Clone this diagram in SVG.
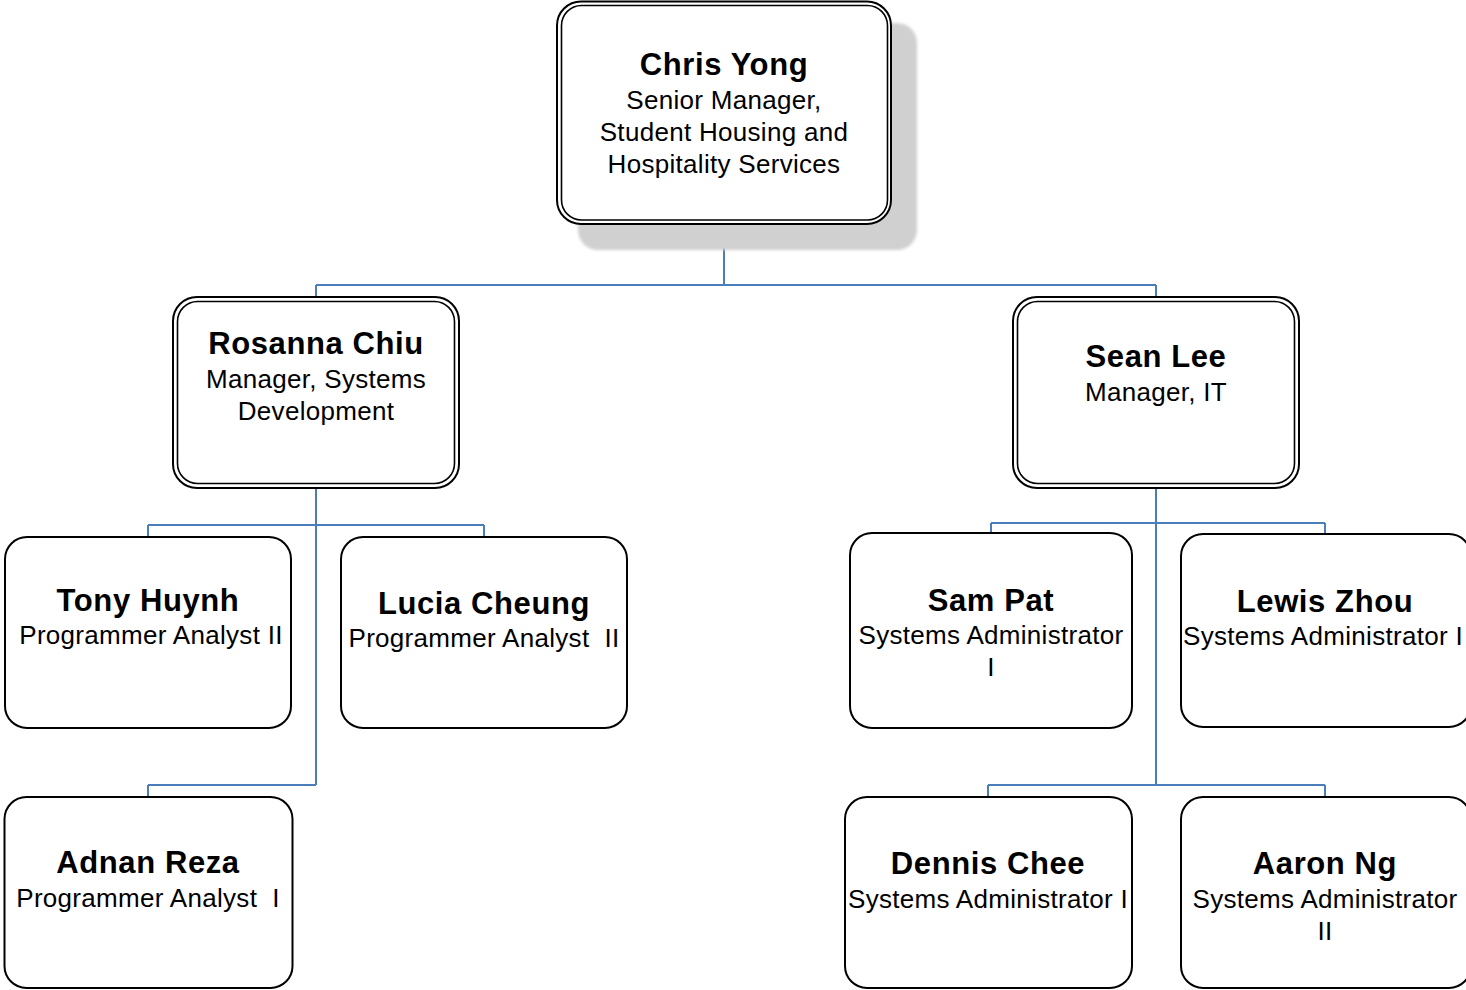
<svg xmlns="http://www.w3.org/2000/svg" width="1466" height="990" viewBox="0 0 1466 990">
<defs>
<filter id="blur" x="-10%" y="-10%" width="120%" height="120%"><feGaussianBlur stdDeviation="1.5"/></filter>
<style>
.box{fill:#ffffff;stroke:#000000;stroke-width:2}
.inner{fill:none;stroke:#000000;stroke-width:1.6}
.conn{fill:none;stroke:#4a7ebb;stroke-width:2}
.name{font-family:"Liberation Sans",Arial,sans-serif;font-weight:bold;font-size:31px;letter-spacing:0.6px;text-anchor:middle;fill:#000}
.sub{font-family:"Liberation Sans",Arial,sans-serif;font-size:26px;letter-spacing:0.3px;text-anchor:middle;fill:#000;white-space:pre}
</style>
</defs>
<rect width="1466" height="990" fill="#ffffff"/>
<g id="connectors">
<path class="conn" d="M724 224 V285 M316 285 H1156 M316 285 V297 M1156 285 V297"/>
<path class="conn" d="M316 488 V785 M148 525 H484 M148 525 V537 M484 525 V537 M148 785 H316 M148 785 V797"/>
<path class="conn" d="M1156 488 V785 M991 523 H1325 M991 523 V533 M1325 523 V534 M988 785 H1325 M988 785 V797 M1325 785 V797"/>
</g>
<g id="chris-yong">
<rect x="578" y="23" width="339" height="227" rx="20" fill="#d0d0d0" filter="url(#blur)"/>
<rect class="box" x="557" y="1.5" width="334" height="222.5" rx="24"/>
<rect class="inner" x="561.5" y="5.5" width="326" height="214.5" rx="20"/>
<text class="name" x="724" y="75">Chris Yong</text>
<text class="sub" x="724" y="109">Senior Manager,</text>
<text class="sub" x="724" y="141">Student Housing and</text>
<text class="sub" x="724" y="173">Hospitality Services</text>
</g>
<g id="rosanna-chiu">
<rect class="box" x="173" y="297" width="286" height="191" rx="24"/>
<rect class="inner" x="177.5" y="301.5" width="277" height="182" rx="20"/>
<text class="name" x="316" y="354">Rosanna Chiu</text>
<text class="sub" x="316" y="388">Manager, Systems</text>
<text class="sub" x="316" y="420">Development</text>
</g>
<g id="sean-lee">
<rect class="box" x="1013" y="297" width="286" height="191" rx="24"/>
<rect class="inner" x="1017.5" y="301.5" width="277" height="182" rx="20"/>
<text class="name" x="1156" y="367">Sean Lee</text>
<text class="sub" x="1156" y="401">Manager, IT</text>
</g>
<g id="tony-huynh">
<rect class="box" x="5" y="537" width="286" height="191" rx="22"/>
<text class="name" x="148" y="611">Tony Huynh</text>
<text class="sub" x="151" y="644">Programmer Analyst II</text>
</g>
<g id="lucia-cheung">
<rect class="box" x="341" y="537" width="286" height="191" rx="22"/>
<text class="name" x="484" y="614">Lucia Cheung</text>
<text class="sub" x="484" y="647">Programmer Analyst  II</text>
</g>
<g id="adnan-reza">
<rect class="box" x="4.5" y="797" width="288" height="191" rx="22"/>
<text class="name" x="148" y="873">Adnan Reza</text>
<text class="sub" x="148" y="907">Programmer Analyst  I</text>
</g>
<g id="sam-pat">
<rect class="box" x="850" y="533" width="282" height="195" rx="22"/>
<text class="name" x="991" y="611">Sam Pat</text>
<text class="sub" x="991" y="644">Systems Administrator</text>
<text class="sub" x="991" y="676">I</text>
</g>
<g id="lewis-zhou">
<rect class="box" x="1181" y="534" width="290" height="193" rx="22"/>
<text class="name" x="1325" y="612">Lewis Zhou</text>
<text class="sub" x="1323" y="645">Systems Administrator I</text>
</g>
<g id="dennis-chee">
<rect class="box" x="845" y="797" width="287" height="191" rx="22"/>
<text class="name" x="988" y="874">Dennis Chee</text>
<text class="sub" x="988" y="908">Systems Administrator I</text>
</g>
<g id="aaron-ng">
<rect class="box" x="1181" y="797" width="290" height="191" rx="22"/>
<text class="name" x="1325" y="874">Aaron Ng</text>
<text class="sub" x="1325" y="908">Systems Administrator</text>
<text class="sub" x="1325" y="940">II</text>
</g>
</svg>
